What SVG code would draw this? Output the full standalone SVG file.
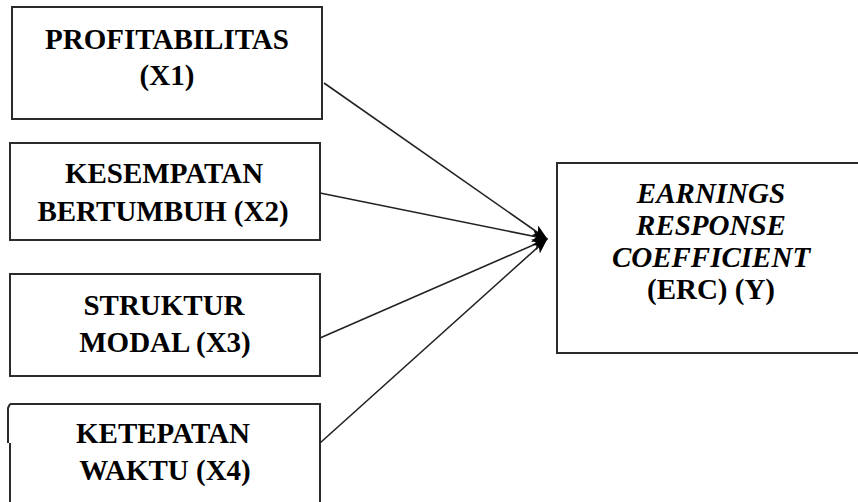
<svg xmlns="http://www.w3.org/2000/svg" width="858" height="502" viewBox="0 0 858 502">
<style>
.box{fill:#fff;stroke:#2b2b2b;stroke-width:2}
.t{font-family:"Liberation Serif","Times New Roman",serif;font-weight:bold;font-size:29px;fill:#000;text-anchor:middle}
.it{font-style:italic}
.c{stroke:#222;stroke-width:1.6;fill:none;marker-end:url(#ah)}
</style>
<defs>
<marker id="ah" viewBox="0 0 16 12" refX="15" refY="6" markerWidth="16" markerHeight="12" markerUnits="userSpaceOnUse" orient="auto">
<path d="M0,0 L16,6 L0,12 L4,6 Z" fill="#000"/>
</marker>
</defs>
<rect width="858" height="502" fill="#fff"/>
<g id="x1">
<rect class="box" x="12" y="7" width="310" height="112"/>
<text class="t" x="167" y="49">PROFITABILITAS</text>
<text class="t" x="167" y="85">(X1)</text>
</g>
<g id="x2">
<rect class="box" x="10" y="143" width="310" height="97"/>
<text class="t" x="164" y="183">KESEMPATAN</text>
<text class="t" x="163" y="221">BERTUMBUH (X2)</text>
</g>
<g id="x3">
<rect class="box" x="10" y="274" width="310" height="102"/>
<text class="t" x="164" y="315">STRUKTUR</text>
<text class="t" x="165" y="352">MODAL (X3)</text>
</g>
<g id="x4">
<path class="box" d="M10,404 L320,404 L320,510 M10,443 L10,510 M8,443 L8,408 L10,404"/>
<text class="t" x="163" y="443">KETEPATAN</text>
<text class="t" x="165" y="480">WAKTU (X4)</text>
</g>
<g id="y">
<rect class="box" x="557" y="163" width="310" height="190"/>
<text class="t it" x="711" y="203">EARNINGS</text>
<text class="t it" x="711" y="235">RESPONSE</text>
<text class="t it" x="711" y="267">COEFFICIENT</text>
<text class="t" x="711" y="299">(ERC) (Y)</text>
</g>
<g id="connectors">
<line class="c" x1="324" y1="83" x2="547" y2="239"/>
<line class="c" x1="320" y1="193" x2="547" y2="239"/>
<line class="c" x1="320" y1="338" x2="547" y2="239"/>
<line class="c" x1="320" y1="443" x2="547" y2="239"/>
</g>
</svg>
